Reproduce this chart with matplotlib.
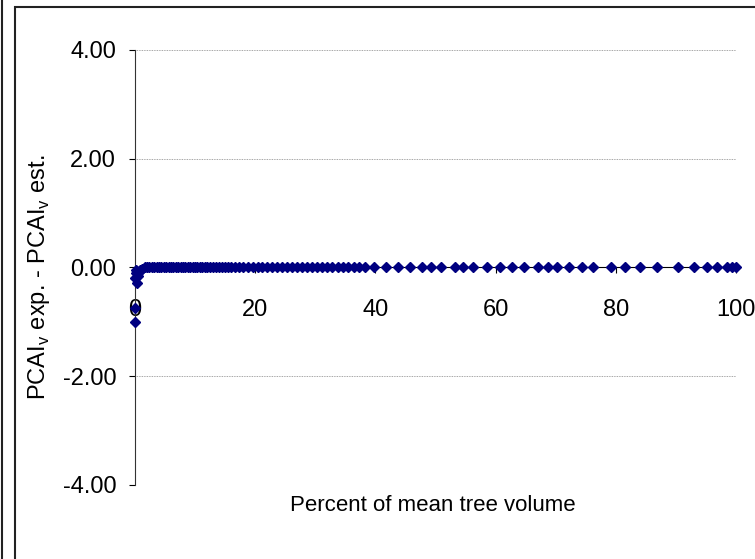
import matplotlib.pyplot as plt
from matplotlib.lines import Line2D
from matplotlib.patches import Rectangle

# data
x_vals = [0.0, 0.0, 0.0, 0.1, 0.2, 0.3, 0.5, 0.7, 0.9,
          1.2, 1.6, 2.0, 2.4, 2.8, 3.2, 3.6, 4.0, 4.4, 4.8, 5.2,
          5.6, 6.0, 6.4, 6.8, 7.2, 7.6, 8.0, 8.4, 8.8, 9.2,
          9.6, 10.0, 10.4, 10.8, 11.2, 11.6, 12.0, 12.5, 13.0, 13.5,
          14.0, 14.5, 15.0, 15.5, 16.0, 16.6, 17.3, 18.0, 18.8, 19.6,
          20.4, 21.2, 22.0, 22.8, 23.6, 24.4, 25.3, 26.2, 27.0, 27.8,
          28.6, 29.4, 30.3, 31.2, 32.0, 32.8, 33.7, 34.6, 35.5, 36.4,
          37.3, 38.2, 39.8, 41.8, 43.7, 45.7, 47.7, 49.3, 51.0, 53.2,
          54.5, 56.2, 58.5, 60.7, 62.7, 64.7, 67.0, 68.7, 70.2, 72.2,
          74.3, 76.2, 79.2, 81.5, 84.0, 86.8, 90.3, 93.0, 95.2, 96.8,
          98.5, 99.3, 100.0]
y_vals = [-1.0, -0.75, -0.2, -0.1, -0.05, -0.28, -0.15, -0.08, -0.04,
          -0.02] + [0.0] * 93
x_ticks = [0, 20, 40, 60, 80, 100]
y_ticks = [-4, -2, 0, 2, 4]
x_label = "Percent of mean tree volume"
y_label = "PCAI$_{\\mathregular{v}}$ exp. - PCAI$_{\\mathregular{v}}$ est."

plt.rcParams['font.family'] = ['Liberation Sans', 'DejaVu Sans']

fig = plt.figure(figsize=(7.55, 5.59), dpi=100)
ax = fig.add_axes([0.1788, 0.1324, 0.7960, 0.7782])

ax.plot(x_vals, y_vals, linestyle='none', marker='D', markersize=4.8,
        color='#000080', zorder=3, clip_on=False)

ax.set_xlim(0, 100)
ax.set_ylim(-4, 4)
ax.set_xticks(x_ticks)
ax.set_yticks(y_ticks)
ax.set_yticklabels(["%.2f" % v for v in y_ticks])

ax.spines['top'].set_visible(False)
ax.spines['right'].set_visible(False)
ax.spines['bottom'].set_position(('data', 0))
ax.spines['bottom'].set_zorder(2)
ax.spines['left'].set_color('#333333')
ax.tick_params(axis='both', direction='out', labelsize=17)
ax.tick_params(axis='x', pad=19, length=4)
ax.tick_params(axis='y', pad=9, length=4.5)

ax.grid(axis='y', color='#888888', linestyle=(0, (1, 1)), linewidth=0.6)
ax.yaxis.get_gridlines()[0].set_visible(False)
ax.set_axisbelow(True)

fig.text(0.5735, 0.0966, x_label, ha='center', va='center', fontsize=16)
fig.text(0.052, 0.504, y_label, ha='center', va='center', rotation=90,
         fontsize=17)

# chart frame
fig.patches.append(Rectangle((15 / 755, -0.01), 1.0, 1 - 7 / 559 + 0.01,
                             transform=fig.transFigure, fill=False,
                             edgecolor='#222222', linewidth=1.5))
fig.lines.append(Line2D([2 / 755, 2 / 755], [0, 1], transform=fig.transFigure,
                        color='#222222', linewidth=1.5))

fig.savefig("out.png", dpi=100)
